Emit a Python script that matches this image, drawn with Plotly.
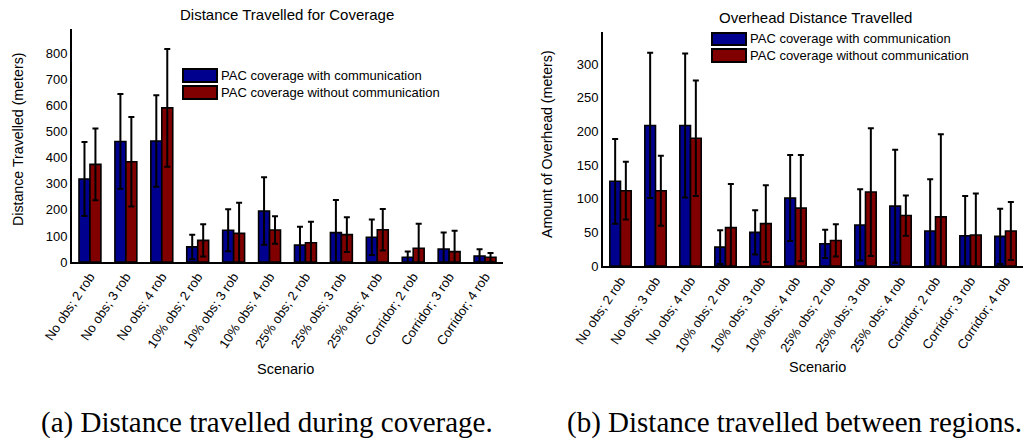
import plotly.graph_objects as go

categories = ["No obs; 2 rob", "No obs; 3 rob", "No obs; 4 rob",
              "10% obs; 2 rob", "10% obs; 3 rob", "10% obs; 4 rob",
              "25% obs; 2 rob", "25% obs; 3 rob", "25% obs; 4 rob",
              "Corridor; 2 rob", "Corridor; 3 rob", "Corridor; 4 rob"]

series_names = ["PAC coverage with communication", "PAC coverage without communication"]

# (a) Distance travelled for coverage
cov_with = [319, 463, 465, 58, 122, 196, 65, 113, 95, 18, 50, 23]
cov_with_err = [142, 182, 176, 47, 81, 130, 70, 125, 68, 22, 63, 26]
cov_without = [375, 385, 592, 83, 110, 123, 74, 105, 124, 53, 40, 18]
cov_without_err = [138, 172, 226, 62, 118, 53, 81, 67, 80, 94, 80, 17]

# (b) Overhead distance travelled
ovh_with = [126, 209, 209, 28, 50, 101, 33, 61, 89, 52, 45, 44]
ovh_with_err = [63, 108, 107, 25, 33, 64, 21, 53, 84, 77, 59, 41]
ovh_without = [112, 112, 190, 57, 63, 86, 38, 110, 75, 73, 46, 52]
ovh_without_err = [43, 52, 86, 65, 57, 79, 24, 95, 30, 123, 62, 43]

left_y_ticks = [0, 100, 200, 300, 400, 500, 600, 700, 800]
right_y_ticks = [0, 50, 100, 150, 200, 250, 300]

BLUE = "#00008f"
RED = "#800000"
SANS = "Liberation Sans, Arial, sans-serif"
SERIF = "Liberation Serif, Times New Roman, serif"

fig = go.Figure()

def add_bars(vals, errs, name, color, xa, ya):
    fig.add_trace(go.Bar(
        x=categories, y=vals, name=name, xaxis=xa, yaxis=ya,
        marker=dict(color=color, line=dict(color="black", width=1.6)),
        error_y=dict(type="data", array=errs, symmetric=True,
                     color="black", thickness=2, width=3),
        showlegend=False,
    ))

add_bars(cov_with, cov_with_err, series_names[0], BLUE, "x", "y")
add_bars(cov_without, cov_without_err, series_names[1], RED, "x", "y")
add_bars(ovh_with, ovh_with_err, series_names[0], BLUE, "x2", "y2")
add_bars(ovh_without, ovh_without_err, series_names[1], RED, "x2", "y2")

W, H = 1025, 440
def px(x):
    return x / W
def py(y):
    return 1 - y / H

xaxis_common = dict(
    type="category", range=[-0.5, 11.5], showline=True, linecolor="black",
    linewidth=2, ticks="", tickangle=-56, showgrid=False, zeroline=False,
    automargin=False, tickfont=dict(family=SANS, size=13, color="black"),
)
yaxis_common = dict(
    showline=True, linecolor="black", linewidth=2, ticks="", showgrid=False,
    zeroline=False, automargin=False,
    tickfont=dict(family=SANS, size=13, color="black"),
)

fig.update_layout(
    template="none",
    width=W, height=H,
    margin=dict(l=0, r=0, t=0, b=0, autoexpand=False),
    paper_bgcolor="white", plot_bgcolor="white",
    barmode="group", bargap=0.39, bargroupgap=0,
    xaxis=dict(domain=[px(72), px(503)], anchor="y", **xaxis_common),
    yaxis=dict(domain=[py(262), py(29)], anchor="x", range=[0, 895],
               tickvals=left_y_ticks, **yaxis_common),
    xaxis2=dict(domain=[px(603), px(1023)], anchor="y2", **xaxis_common),
    yaxis2=dict(domain=[py(266), py(32)], anchor="x2", range=[0, 348],
                tickvals=right_y_ticks, **yaxis_common),
    showlegend=False,
)

def text(x, y, s, size, family=SANS, angle=0, xanchor="center"):
    fig.add_annotation(x=px(x), y=py(y), xref="paper", yref="paper",
                       text=s, showarrow=False, textangle=angle,
                       xanchor=xanchor, yanchor="middle",
                       font=dict(family=family, size=size, color="black"))

# Titles
text(287, 15, "Distance Travelled for Coverage", 15)
text(815, 18, "Overhead Distance Travelled", 15)
# Axis titles
text(18, 140, "Distance Travelled (meters)", 14.2, angle=-90)
text(547, 144, "Amount of Overhead (meters)", 14.2, angle=-90)
text(285, 369, "Scenario", 14.5)
text(817, 367, "Scenario", 14.5)
# Captions
text(267, 422, "(a) Distance travelled during coverage.", 29, family=SERIF)
text(794, 422, "(b) Distance travelled between regions.", 29, family=SERIF)

# Legends (drawn as boxes + text)
def legend(x0, ys):
    for (y0, y1), color, name in zip(ys, [BLUE, RED], series_names):
        fig.add_shape(type="rect", xref="paper", yref="paper",
                      x0=px(x0), x1=px(x0 + 34), y0=py(y1), y1=py(y0),
                      fillcolor=color, line=dict(color="black", width=2))
        text(x0 + 36, (y0 + y1) / 2, name, 13, xanchor="left")

legend(183, [(69, 82), (86, 99)])
legend(712, [(33, 45), (49, 62)])

fig.write_html("out.html")
